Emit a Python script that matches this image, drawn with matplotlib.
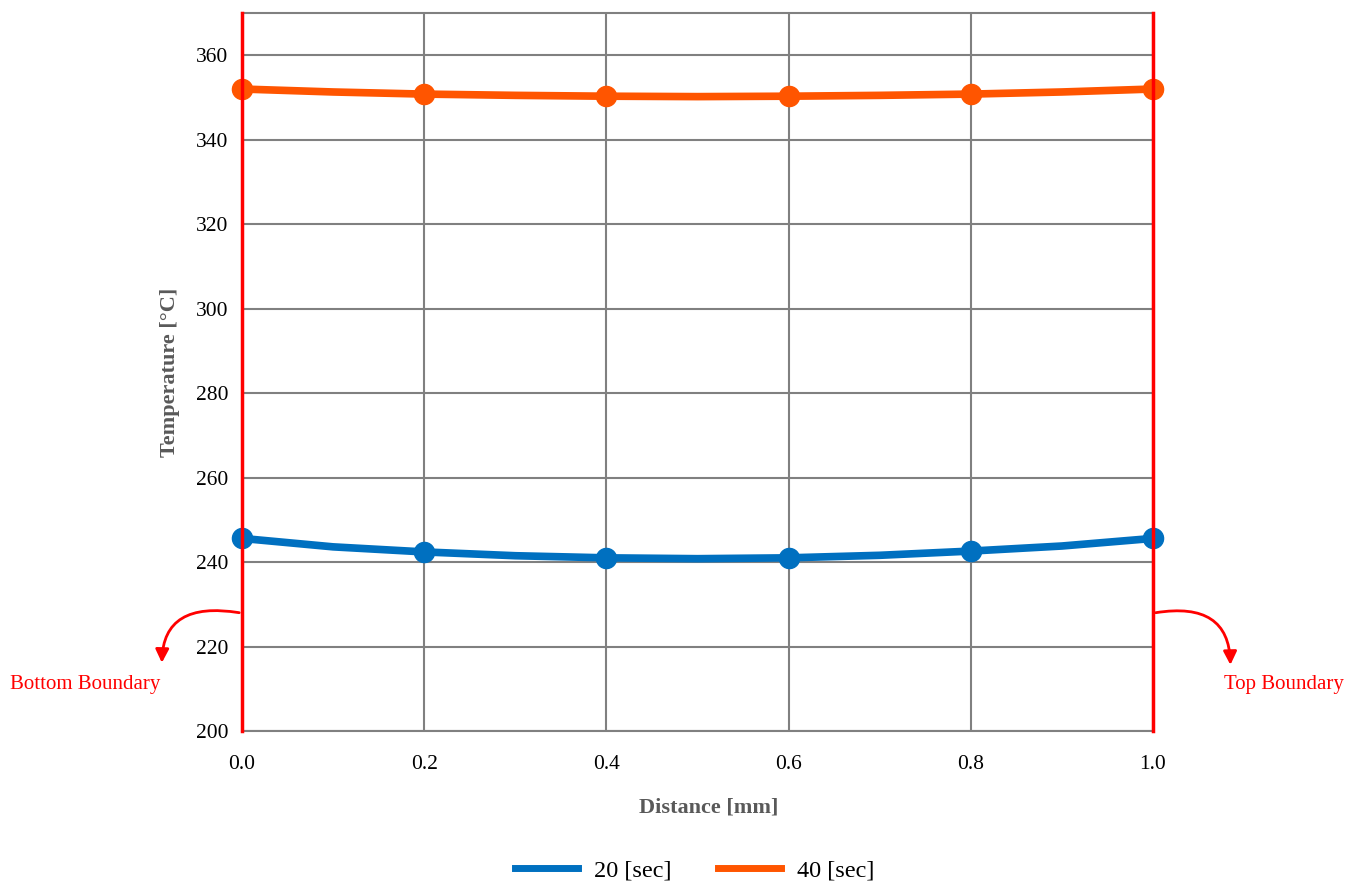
import matplotlib.pyplot as plt
from matplotlib.lines import Line2D

# data
distance = [0.0, 0.1, 0.2, 0.3, 0.4, 0.5, 0.6, 0.7, 0.8, 0.9, 1.0]
temp_20 = [245.6, 243.6, 242.4, 241.5, 241.0, 240.8, 241.0, 241.6, 242.6, 243.8, 245.6]
temp_40 = [352.0, 351.3, 350.8, 350.5, 350.3, 350.2, 350.3, 350.5, 350.8, 351.3, 352.0]
x_ticks = [0.0, 0.2, 0.4, 0.6, 0.8, 1.0]
y_ticks = [200, 220, 240, 260, 280, 300, 320, 340, 360]

plt.rcParams['font.family'] = ['Liberation Serif', 'DejaVu Serif']

fig = plt.figure(figsize=(13.59, 8.83), dpi=100)
ax = fig.add_axes([242 / 1359, 1 - 731 / 883, (1153 - 242) / 1359, (731 - 13) / 883])

blue = '#0070C0'
orange = '#FF5500'
grid_c = '#808080'

ax.plot(distance, temp_20, color=blue, lw=5.5, marker='o', ms=14.5, markevery=2,
        clip_on=False, zorder=4)
ax.plot(distance, temp_40, color=orange, lw=5.5, marker='o', ms=14.5, markevery=2,
        clip_on=False, zorder=4)

ax.set_xlim(0, 1.0)
ax.set_ylim(200, 370)
ax.set_xticks(x_ticks)
ax.set_xticklabels([f'{v:.1f}' for v in x_ticks])
ax.set_yticks(y_ticks)
ax.grid(True, color=grid_c, lw=1.5)
ax.tick_params(length=0, labelsize=15.5, pad=10)
ax.tick_params(axis='x', pad=17)

for s in ['top', 'bottom']:
    ax.spines[s].set_color(grid_c)
    ax.spines[s].set_linewidth(1.5)
for s in ['left', 'right']:
    ax.spines[s].set_color('red')
    ax.spines[s].set_linewidth(2.5)
    ax.spines[s].set_zorder(5)

ax.set_xlabel('Distance [mm]', fontsize=16, fontweight='bold', color='#595959', labelpad=14)
ax.xaxis.set_label_coords(0.512, -0.093)
ax.set_ylabel('Temperature [°C]', fontsize=16, fontweight='bold', color='#595959', labelpad=11)

arrow = dict(arrowstyle='-|>', color='red', lw=2, mutation_scale=20)
ax.annotate('', xy=(-0.088, 215.5), xytext=(0.0, 227.9), annotation_clip=False,
            arrowprops=dict(arrow, connectionstyle='angle3,angleA=170,angleB=90'))
ax.annotate('', xy=(1.085, 215.0), xytext=(1.0, 227.9), annotation_clip=False,
            arrowprops=dict(arrow, connectionstyle='angle3,angleA=10,angleB=90'))
ax.text(-0.172, 211.0, 'Bottom Boundary', color='red', fontsize=15,
        ha='center', va='center', clip_on=False)
ax.text(1.144, 211.0, 'Top Boundary', color='red', fontsize=15,
        ha='center', va='center', clip_on=False)

handles = [Line2D([], [], color=blue, lw=5), Line2D([], [], color=orange, lw=5)]
fig.legend(handles, ['20 [sec]', '40 [sec]'], loc='lower center', ncol=2,
           frameon=False, fontsize=17.5, bbox_to_anchor=(0.511, -0.023),
           handlelength=2.6, handletextpad=0.66, columnspacing=1.9)
fig.savefig('out.png', dpi=100)
